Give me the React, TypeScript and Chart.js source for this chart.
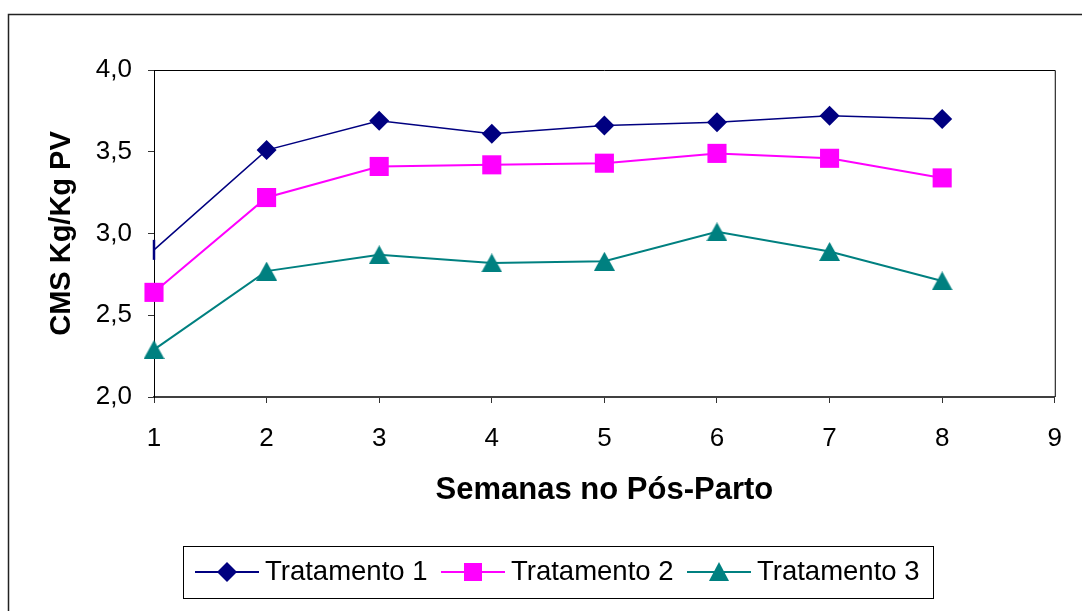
import React, { useEffect, useRef } from 'react';
import { Chart, registerables } from 'chart.js';

Chart.register(...registerables);

const weeks = [1, 2, 3, 4, 5, 6, 7, 8];
const tratamento1 = [2.9, 3.51, 3.69, 3.61, 3.66, 3.68, 3.72, 3.7];
const tratamento2 = [2.64, 3.22, 3.41, 3.42, 3.43, 3.49, 3.46, 3.34];
const tratamento3 = [2.29, 2.77, 2.87, 2.82, 2.83, 3.01, 2.89, 2.71];
const seriesLabels = ['Tratamento 1', 'Tratamento 2', 'Tratamento 3'];
const seriesColors = ['#000080', '#FF00FF', '#008080'];
const xAxisTitle = 'Semanas no Pós-Parto';
const yAxisTitle = 'CMS Kg/Kg PV';

const FONT = "'Liberation Sans', Arial, sans-serif";

function makeTriangle(color: string, w: number, h: number) {
  const c = document.createElement('canvas');
  c.width = w;
  c.height = h;
  const ctx = c.getContext('2d')!;
  ctx.fillStyle = color;
  ctx.beginPath();
  ctx.moveTo(w / 2, 0);
  ctx.lineTo(w, h);
  ctx.lineTo(0, h);
  ctx.closePath();
  ctx.fill();
  return c;
}

const framePlugin = {
  id: 'framePlugin',
  beforeDraw(chart: any) {
    const ctx = chart.ctx;
    ctx.save();
    ctx.fillStyle = '#ffffff';
    ctx.fillRect(0, 0, chart.width, chart.height);
    ctx.strokeStyle = '#222';
    ctx.lineWidth = 1.5;
    ctx.strokeRect(8.5, 14.5, chart.width + 20, chart.height + 20);
    ctx.restore();
  },
  beforeDatasetsDraw(chart: any) {
    const { ctx, chartArea } = chart;
    ctx.save();
    ctx.strokeStyle = '#000';
    ctx.lineWidth = 1;
    ctx.beginPath();
    ctx.moveTo(chartArea.left, chartArea.top + 0.5);
    ctx.lineTo(chartArea.right + 0.5, chartArea.top + 0.5);
    ctx.lineTo(chartArea.right + 0.5, chartArea.bottom);
    ctx.stroke();
    ctx.restore();
  },
  afterDraw(chart: any) {
    const ctx = chart.ctx;
    ctx.save();
    // legend box
    ctx.strokeStyle = '#000';
    ctx.lineWidth = 1;
    ctx.strokeRect(183.5, 546.5, 750, 52);
    const cy = 572;
    const centers = [227, 473, 719];
    chart.data.datasets.forEach((ds: any, i: number) => {
      const cx = centers[i];
      ctx.strokeStyle = ds.borderColor;
      ctx.lineWidth = 2;
      ctx.beginPath();
      ctx.moveTo(cx - 32, cy);
      ctx.lineTo(cx + 32, cy);
      ctx.stroke();
      ctx.fillStyle = ds.borderColor;
      ctx.beginPath();
      if (i === 0) {
        ctx.moveTo(cx, cy - 10);
        ctx.lineTo(cx + 10, cy);
        ctx.lineTo(cx, cy + 10);
        ctx.lineTo(cx - 10, cy);
        ctx.closePath();
      } else if (i === 1) {
        ctx.rect(cx - 9, cy - 9, 18, 18);
      } else {
        ctx.moveTo(cx, cy - 10);
        ctx.lineTo(cx + 10, cy + 9);
        ctx.lineTo(cx - 10, cy + 9);
        ctx.closePath();
      }
      ctx.fill();
      ctx.fillStyle = '#000';
      ctx.font = `27.5px ${FONT}`;
      ctx.textBaseline = 'middle';
      ctx.textAlign = 'left';
      ctx.fillText(ds.label, cx + 38, cy);
    });
    ctx.restore();
  },
};

export default function App() {
  const ref = useRef<HTMLCanvasElement | null>(null);

  useEffect(() => {
    if (!ref.current) return;
    const tri = makeTriangle(seriesColors[2], 21, 19);
    const n = weeks.length;
    const chart = new Chart(ref.current, {
      type: 'line',
      data: {
        datasets: [
          {
            label: seriesLabels[0],
            data: weeks.map((w, i) => ({ x: w, y: tratamento1[i] })),
            borderColor: seriesColors[0],
            backgroundColor: seriesColors[0],
            borderWidth: 1.5,
            pointStyle: weeks.map((_, i) => (i === 0 ? 'line' : 'rectRot')) as any,
            pointRotation: weeks.map((_, i) => (i === 0 ? 90 : 0)),
            pointRadius: 10,
            pointBorderWidth: weeks.map((_, i) => (i === 0 ? 2.5 : 0)),
            pointBackgroundColor: seriesColors[0],
            pointBorderColor: seriesColors[0],
            tension: 0,
            clip: false as any,
          },
          {
            label: seriesLabels[1],
            data: weeks.map((w, i) => ({ x: w, y: tratamento2[i] })),
            borderColor: seriesColors[1],
            backgroundColor: seriesColors[1],
            borderWidth: 2,
            pointStyle: 'rect',
            pointRadius: 13.5,
            pointBorderWidth: 0,
            pointBackgroundColor: seriesColors[1],
            tension: 0,
            clip: false as any,
          },
          {
            label: seriesLabels[2],
            data: weeks.map((w, i) => ({ x: w, y: tratamento3[i] })),
            borderColor: seriesColors[2],
            backgroundColor: seriesColors[2],
            borderWidth: 2,
            pointStyle: Array(n).fill(tri) as any,
            pointRadius: 10,
            pointBorderWidth: 0,
            tension: 0,
            clip: false as any,
          },
        ],
      },
      options: {
        responsive: false,
        animation: false,
        layout: { padding: { left: 0, top: 70, right: 27, bottom: 64 } },
        plugins: {
          legend: { display: false },
          tooltip: { enabled: false },
          title: { display: false },
        },
        scales: {
          x: {
            type: 'linear',
            min: 1,
            max: 9,
            afterFit: (s: any) => {
              s.height = 150;
            },
            ticks: {
              stepSize: 1,
              color: '#000',
              padding: 20,
              font: { family: FONT, size: 26 },
            },
            grid: {
              drawOnChartArea: false,
              drawTicks: true,
              tickLength: 6,
              color: '#333',
            },
            border: { display: true, color: '#404040', width: 2 },
            title: {
              display: true,
              text: xAxisTitle,
              color: '#000',
              font: { family: FONT, size: 31, weight: 'bold' },
              padding: { top: 0, bottom: 38 },
            },
          },
          y: {
            type: 'linear',
            min: 2,
            max: 4,
            afterFit: (s: any) => {
              s.width = 154;
            },
            ticks: {
              stepSize: 0.5,
              color: '#000',
              padding: 16,
              font: { family: FONT, size: 26 },
              callback: (v: any) => Number(v).toFixed(1).replace('.', ','),
            },
            grid: {
              drawOnChartArea: false,
              drawTicks: true,
              tickLength: 6,
              color: '#333',
            },
            border: { display: true, color: '#000', width: 1 },
            title: {
              display: true,
              text: yAxisTitle,
              color: '#000',
              font: { family: FONT, size: 29, weight: 'bold' },
              padding: { top: 45, bottom: 0 },
            },
          },
        },
      },
      plugins: [framePlugin],
    });
    return () => chart.destroy();
  }, []);

  return (
    <div style={{ position: 'absolute', left: 0, top: 0, width: 1082, height: 611 }}>
      <canvas ref={ref} width={1082} height={611} />
    </div>
  );
}
